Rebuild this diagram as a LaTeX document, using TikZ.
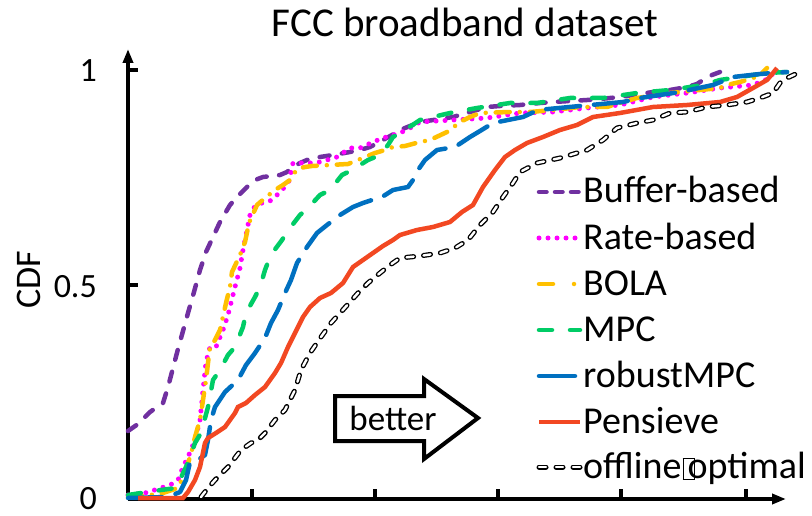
\documentclass[tikz,border=0pt]{standalone}
\usepackage{fontspec}
\setmainfont{Carlito}
\usetikzlibrary{arrows.meta}
\definecolor{cbuf}{HTML}{7030A0}
\definecolor{crate}{HTML}{FF00FF}
\definecolor{cbola}{HTML}{FFC000}
\definecolor{cmpc}{HTML}{00CC66}
\definecolor{crob}{HTML}{0070C0}
\definecolor{cpen}{HTML}{F24822}
\begin{document}
\begin{tikzpicture}[x=1pt,y=-1pt,
  axis/.style={line width=3.5pt},
  tipax/.style={-{Triangle[length=14pt,width=10pt]}},
  curve/.style={line width=4.5pt, line cap=round, line join=round},
  sbuf/.style={curve, cbuf, dash pattern=on 10pt off 12.5pt},
  srate/.style={curve, crate, line width=5pt, dash pattern=on 0pt off 9pt},
  sbola/.style={curve, cbola, dash pattern=on 14pt off 10pt on 0pt off 10pt},
  smpc/.style={curve, cmpc, dash pattern=on 13pt off 18pt},
  srob/.style={curve, crob, dash pattern=on 34pt off 14pt},
  spen/.style={curve, cpen, line cap=butt, line join=miter},
  soff/.style={line width=1.3pt, double=white, double distance=2.4pt, line cap=round, line join=round, dash pattern=on 7pt off 10pt},
  legtext/.style={anchor=base west, inner sep=0pt, font=\fontsize{38}{42}\selectfont},
  ticklab/.style={anchor=base east, inner sep=0pt, font=\fontsize{34}{40}\selectfont}]
\useasboundingbox (0,0) rectangle (812,516);

% title and labels
\node[anchor=base, inner sep=0pt, font=\fontsize{41}{46}\selectfont] (title) at (465,37) {FCC broadband dataset};
\node[rotate=90, anchor=base, inner sep=0pt, font=\fontsize{36}{40}\selectfont] (ylab) at (40,280) {CDF};
\node[ticklab] (t1) at (97,82) {1};
\node[ticklab] (t05) at (97,297) {0.5};
\node[ticklab] (t0) at (97,509) {0};

% axes
\coordinate (o) at (128,499);
\coordinate (ytop) at (128,49);
\coordinate (xend) at (786,499);
\draw[axis, tipax] (o) -- (ytop);
\draw[axis, tipax] (o) -- (xend);
\foreach \yy in {70,285} \draw[axis] (128,\yy) -- (138,\yy);
\foreach \xx in {252,375,498,621,746} \draw[axis] (\xx,499) -- (\xx,489);

% curves
\draw[sbuf] (128,431) -- (138,424) -- (150,412) -- (163,403) -- (168,387) -- (173,368) -- (178,349) -- (183,331) -- (188,313) -- (194,292) -- (200,270) -- (206,252) -- (213,237) -- (220,222) -- (230,205) -- (238,196) -- (247,187) -- (255,180) -- (263,177) -- (272,176) -- (280,175) -- (287,172) -- (293,167) -- (300,163) -- (307,160) -- (320,157) -- (333,155) -- (350,152) -- (360,150) -- (370,147) -- (383,140) -- (392,135) -- (400,130) -- (410,126) -- (420,122) -- (440,119) -- (453,117) -- (470,112) -- (487,107) -- (500,106) -- (520,105) -- (540,103) -- (553,102) -- (570,101) -- (587,100) -- (600,99) -- (620,97) -- (640,94) -- (653,92) -- (670,90) -- (687,87) -- (697,84) -- (703,80) -- (712,75) -- (720,72);

\draw[srate] (128,495) -- (145,493) -- (161,488) -- (172,484) -- (178,480) -- (183,467) -- (188,457) -- (195,440) -- (200,420) -- (203,390) -- (206,362) -- (210,347) -- (216,347) -- (223,330) -- (228,315) -- (231,303) -- (235,287) -- (240,268) -- (243,250) -- (245,240) -- (250,215) -- (255,206) -- (262,203) -- (270,201) -- (277,195) -- (283,189) -- (289,181) -- (293,163) -- (302,163) -- (310,163) -- (320,162) -- (327,160) -- (337,157) -- (350,148) -- (360,148) -- (373,142) -- (383,138) -- (400,133) -- (410,128) -- (420,122) -- (453,120) -- (487,118) -- (520,113) -- (553,112) -- (587,108) -- (620,105) -- (653,97) -- (687,93) -- (720,88) -- (753,85) -- (770,78) -- (775,70);

\draw[sbola] (128,497) -- (160,494) -- (178,488) -- (186,470) -- (192,450) -- (195,437) -- (200,420) -- (203,400) -- (206,380) -- (208,363) -- (210,347) -- (215,340) -- (220,330) -- (226,303) -- (230,287) -- (232,272) -- (240,255) -- (245,242) -- (249,223) -- (257,205) -- (265,198) -- (275,190) -- (283,185) -- (290,180) -- (297,169) -- (305,167) -- (312,166) -- (330,165) -- (348,164) -- (358,160) -- (365,157) -- (375,153) -- (385,150) -- (393,147) -- (405,146) -- (420,142) -- (430,140) -- (447,132) -- (455,126) -- (460,122) -- (470,117) -- (480,113) -- (510,112) -- (530,112) -- (553,110) -- (580,107) -- (607,107) -- (620,103) -- (637,98) -- (670,93) -- (720,88) -- (727,85) -- (740,82) -- (753,78) -- (760,75) -- (767,68);

\draw[smpc] (128,495) -- (161,490) -- (176,488) -- (186,467) -- (190,457) -- (195,443) -- (201,433) -- (208,407) -- (213,380) -- (220,370) -- (228,355) -- (235,347) -- (243,327) -- (246,313) -- (255,297) -- (260,287) -- (265,270) -- (270,257) -- (276,248) -- (282,240) -- (290,228) -- (300,215) -- (308,208) -- (320,195) -- (330,190) -- (342,175) -- (352,170) -- (368,160) -- (380,155) -- (388,145) -- (393,137) -- (405,130) -- (420,120) -- (450,113) -- (477,108) -- (510,103) -- (537,103) -- (570,98) -- (603,98) -- (637,93) -- (670,90) -- (703,85) -- (720,80) -- (753,75) -- (767,73) -- (787,72);

\draw[srob] (128,498) -- (168,497) -- (180,492) -- (186,480) -- (190,462) -- (198,460) -- (205,455) -- (208,440) -- (211,420) -- (215,407) -- (225,392) -- (238,380) -- (246,365) -- (255,353) -- (265,338) -- (271,323) -- (278,310) -- (285,293) -- (291,280) -- (297,263) -- (307,247) -- (317,233) -- (327,225) -- (340,215) -- (353,207) -- (363,203) -- (372,200) -- (382,197) -- (393,190) -- (408,187) -- (413,180) -- (418,170) -- (425,160) -- (437,150) -- (455,147) -- (470,137) -- (480,131) -- (493,123) -- (523,117) -- (538,110) -- (580,106) -- (623,102) -- (640,98) -- (680,92) -- (713,85) -- (733,77) -- (760,74) -- (787,72);

\draw[spen] (138,498) -- (183,498) -- (188,492) -- (195,480) -- (200,467) -- (205,443) -- (208,438) -- (216,433) -- (225,427) -- (235,413) -- (238,407) -- (246,403) -- (255,395) -- (265,387) -- (275,373) -- (281,363) -- (288,347) -- (295,333) -- (303,317) -- (310,307) -- (320,298) -- (331,293) -- (343,283) -- (353,267) -- (363,260) -- (373,253) -- (383,246) -- (393,240) -- (400,235) -- (417,230) -- (433,227) -- (450,222) -- (462,212) -- (473,205) -- (483,187) -- (495,170) -- (505,157) -- (515,150) -- (527,143) -- (543,137) -- (560,130) -- (577,125) -- (593,117) -- (620,113) -- (653,107) -- (687,105) -- (720,102) -- (737,97) -- (753,88) -- (767,80) -- (773,73) -- (777,68);

\draw[soff] (201,497) -- (208,488) -- (215,480) -- (228,467) -- (241,450) -- (251,443) -- (258,440) -- (265,433) -- (275,420) -- (285,410) -- (295,390) -- (301,370) -- (310,353) -- (321,337) -- (331,323) -- (341,312) -- (358,293) -- (368,283) -- (380,273) -- (390,265) -- (400,258) -- (420,256) -- (440,253) -- (455,248) -- (468,240) -- (480,225) -- (493,212) -- (503,197) -- (513,183) -- (520,172) -- (537,163) -- (560,158) -- (587,150) -- (603,140) -- (617,128) -- (637,123) -- (653,120) -- (670,113) -- (687,112) -- (707,107) -- (727,105) -- (747,102) -- (760,98) -- (773,93) -- (780,83) -- (787,78) -- (800,72);

% better arrow
\draw[line width=4pt, line join=miter] (335,396) -- (424,396) -- (424,379) -- (478,418) -- (424,459) -- (424,441) -- (335,441) -- cycle;
\node[anchor=base, inner sep=0pt, font=\fontsize{35}{40}\selectfont] (better) at (393,430) {better};

% legend
\node[legtext] (l1) at (583,203) {Buffer-based};
\node[legtext] (l2) at (583,249) {Rate-based};
\node[legtext] (l3) at (583,295) {BOLA};
\node[legtext] (l4) at (583,341) {MPC};
\node[legtext] (l5) at (583,387) {robustMPC};
\node[legtext] (l6) at (583,433) {Pensieve};
\node[legtext] (l7) at (583,478) {offline\kern1pt\rlap{\setlength{\fboxsep}{0pt}\setlength{\fboxrule}{1pt}\raisebox{-1pt}{\fbox{\rule{0pt}{20pt}\rule{10pt}{0pt}}}}\kern5pt optimal};
\draw[sbuf, dash pattern=on 7.5pt off 8.5pt] ([xshift=-44pt,yshift=11pt]l1.base west) -- ([xshift=-3pt,yshift=11pt]l1.base west);
\draw[srate] ([xshift=-44pt,yshift=11pt]l2.base west) -- ([xshift=-3pt,yshift=11pt]l2.base west);
\draw[sbola, dash pattern=on 14pt off 21pt on 0pt off 30pt] ([xshift=-44pt,yshift=11pt]l3.base west) -- ([xshift=-3pt,yshift=11pt]l3.base west);
\draw[smpc] ([xshift=-44pt,yshift=11pt]l4.base west) -- ([xshift=-3pt,yshift=11pt]l4.base west);
\draw[srob, dash pattern=on 36pt off 10pt] ([xshift=-44pt,yshift=11pt]l5.base west) -- ([xshift=-3pt,yshift=11pt]l5.base west);
\draw[spen] ([xshift=-44pt,yshift=11pt]l6.base west) -- ([xshift=-3pt,yshift=11pt]l6.base west);
\draw[soff] ([xshift=-44pt,yshift=11pt]l7.base west) -- ([xshift=-3pt,yshift=11pt]l7.base west);
\end{tikzpicture}
\end{document}
